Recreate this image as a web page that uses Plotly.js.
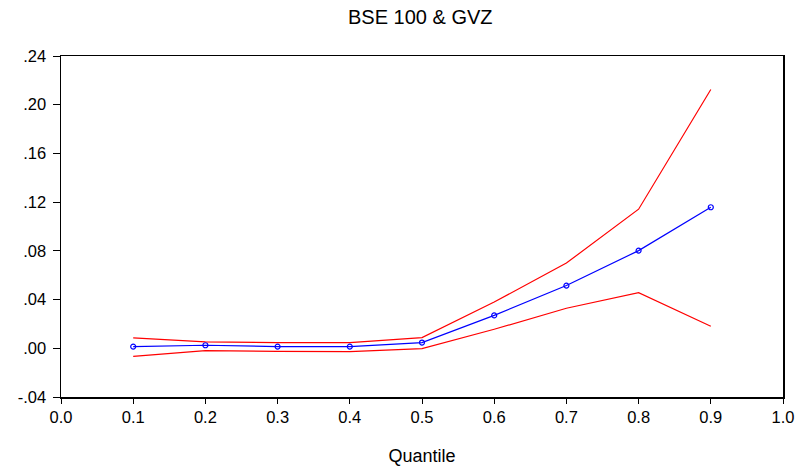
<!DOCTYPE html>
<html><head><meta charset="utf-8">
<script src="https://cdn.plot.ly/plotly-3.0.1.min.js"></script>
<style>html,body{margin:0;padding:0;background:#fff}</style>
</head><body><div id="chart" style="width:799px;height:468px"></div>
<script>
const quantiles = [0.1,0.2,0.3,0.4,0.5,0.6,0.7,0.8,0.9];
const estimate = [0.0014,0.0025,0.0014,0.0014,0.0047,0.027,0.0515,0.0802,0.1158];
const upperBand = [0.0085,0.0052,0.0047,0.0047,0.0088,0.038,0.070,0.1142,0.2125];
const lowerBand = [-0.0066,-0.0019,-0.0025,-0.0027,-0.0003,0.0156,0.0329,0.0457,0.0181];
const yTickVals = [-0.04,0,0.04,0.08,0.12,0.16,0.20,0.24];
const yTickText = ['-.04','.00','.04','.08','.12','.16','.20','.24'];
const xTickVals = [0,0.1,0.2,0.3,0.4,0.5,0.6,0.7,0.8,0.9,1.0];
const xTickText = ['0.0','0.1','0.2','0.3','0.4','0.5','0.6','0.7','0.8','0.9','1.0'];

const font = {family:'Liberation Sans, Arial, sans-serif', size:16.5, color:'#000'};
const traces = [
 {x:quantiles,y:upperBand,mode:'lines',line:{color:'#ff0000',width:1.2},hoverinfo:'skip'},
 {x:quantiles,y:lowerBand,mode:'lines',line:{color:'#ff0000',width:1.2},hoverinfo:'skip'},
 {x:quantiles,y:estimate,mode:'lines+markers',line:{color:'#0000ff',width:1.2},
  marker:{symbol:'circle-open',size:5,color:'#0000ff',line:{width:1.2}}}
];
const layout = {
 width:799,height:468,showlegend:false,
 paper_bgcolor:'#fff',plot_bgcolor:'#fff',
 margin:{l:61,r:16,t:56,b:71},
 font:font,
 title:{text:'BSE 100 & GVZ',font:{family:font.family,size:20,color:'#000'},x:0.526,xanchor:'center',y:0.963,yanchor:'middle'},
 xaxis:{range:[0,1],tickvals:xTickVals,ticktext:xTickText,ticks:'outside',ticklen:5,tickwidth:1,tickcolor:'#000',
  showline:true,linecolor:'#000',linewidth:1.5,mirror:true,showgrid:false,zeroline:false,
  tickfont:{size:16.5},title:{text:'Quantile',font:{size:18},standoff:24}},
 yaxis:{range:[-0.04,0.24],tickvals:yTickVals,ticktext:yTickText,ticks:'outside',ticklen:7,tickwidth:1,tickcolor:'#000',
  ticklabelstandoff:3,
  showline:true,linecolor:'#000',linewidth:1.5,mirror:true,showgrid:false,zeroline:false,tickfont:{size:16.5}}
};
Plotly.newPlot('chart',traces,layout,{displayModeBar:false,staticPlot:true});
</script></body></html>
